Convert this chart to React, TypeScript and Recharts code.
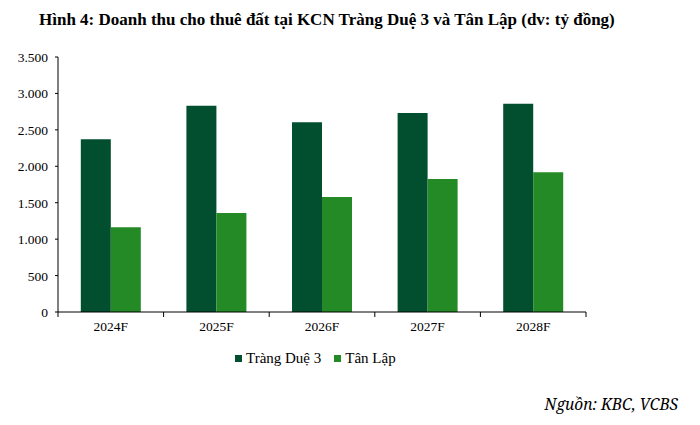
import { Bar, BarChart, XAxis, YAxis } from 'recharts';

const YEARS = ['2024F', '2025F', '2026F', '2027F', '2028F'];
const TRANG_DUE_3 = [2370, 2832, 2603, 2731, 2859];
const TAN_LAP = [1162, 1359, 1578, 1825, 1917];
const Y_TICKS = [0, 500, 1000, 1500, 2000, 2500, 3000, 3500];

const DARK = '#024f2f';
const LIGHT = '#238a26';
const FONT = 'Liberation Serif';

const data = YEARS.map((year, i) => ({
  year,
  trangDue: TRANG_DUE_3[i],
  tanLap: TAN_LAP[i],
}));

const PLOT_LEFT = 58;
const PLOT_RIGHT = 586;
const BAND = (PLOT_RIGHT - PLOT_LEFT) / YEARS.length;

const fmt = (v: number) => v.toLocaleString('de-DE');

// label at the band centre, tick marks on the band edges
function YearTick(props: any) {
  const { x, y, payload, index } = props;
  const last = index === YEARS.length - 1;
  return (
    <g>
      <line x1={x - BAND / 2} y1={y} x2={x - BAND / 2} y2={y + 5} stroke="#000" />
      {last && <line x1={x + BAND / 2} y1={y} x2={x + BAND / 2} y2={y + 5} stroke="#000" />}
      <text x={x} y={y + 19} textAnchor="middle" style={{ fontSize: 13.5, fontFamily: FONT }} fill="#000">
        {payload.value}
      </text>
    </g>
  );
}

function YTick(props: any) {
  const { x, y, payload } = props;
  return (
    <text x={x} y={y + 5} textAnchor="end" style={{ fontSize: 13.5, fontFamily: FONT }} fill="#000">
      {fmt(payload.value)}
    </text>
  );
}

function LegendItem({ color, label }: { color: string; label: string }) {
  return (
    <span style={{ display: 'inline-flex', alignItems: 'center', marginRight: 13 }}>
      <span style={{ width: 7, height: 7, background: color, marginRight: 4 }} />
      {label}
    </span>
  );
}

export default function App() {
  return (
    <div style={{ position: 'absolute', left: 0, top: 0, width: 700, height: 425, background: '#fff', fontFamily: FONT }}>
      <div style={{ position: 'absolute', left: 39, top: 10, fontSize: 17, fontWeight: 'bold', whiteSpace: 'nowrap' }}>
        Hình 4: Doanh thu cho thuê đất tại KCN Tràng Duệ 3 và Tân Lập (dv: tỷ đồng)
      </div>
      <div style={{ position: 'absolute', left: 0, top: 0 }}>
        <BarChart
          width={700}
          height={425}
          data={data}
          margin={{ top: 57, right: 700 - PLOT_RIGHT, bottom: 83, left: 8 }}
          barCategoryGap="21.6%"
          barGap={0}
        >
          <XAxis
            dataKey="year"
            height={30}
            axisLine={{ stroke: '#000' }}
            tickLine={false}
            tickSize={0}
            tickMargin={0}
            tick={<YearTick />}
            interval={0}
          />
          <YAxis
            width={50}
            domain={[0, 3500]}
            ticks={Y_TICKS}
            axisLine={{ stroke: '#000' }}
            tickLine={{ stroke: '#000' }}
            tickSize={3}
            tickMargin={7}
            tick={<YTick />}
            interval={0}
          />
          <Bar dataKey="trangDue" name="Tràng Duệ 3" fill={DARK} isAnimationActive={false} />
          <Bar dataKey="tanLap" name="Tân Lập" fill={LIGHT} isAnimationActive={false} />
        </BarChart>
      </div>
      <div style={{ position: 'absolute', left: 235, top: 350, fontSize: 15, whiteSpace: 'nowrap', display: 'flex' }}>
        <LegendItem color={DARK} label="Tràng Duệ 3" />
        <LegendItem color={LIGHT} label="Tân Lập" />
      </div>
      <div
        style={{
          position: 'absolute',
          right: 22,
          top: 393,
          fontSize: 15.5,
          fontStyle: 'italic',
          fontFamily: 'Noto Serif',
          whiteSpace: 'nowrap',
        }}
      >
        Nguồn: KBC, VCBS
      </div>
    </div>
  );
}
